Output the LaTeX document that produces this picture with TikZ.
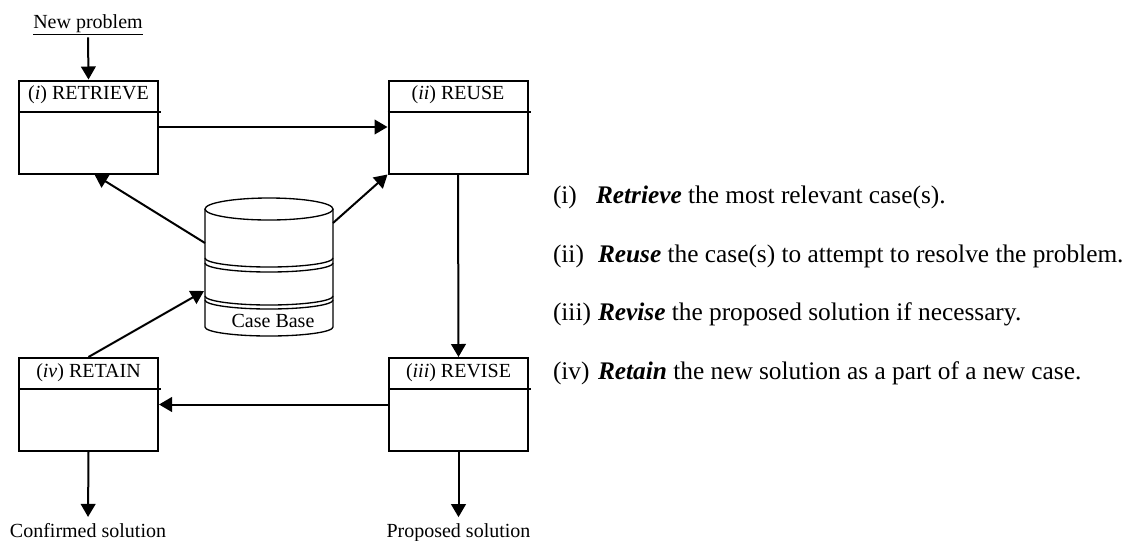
\documentclass[tikz,border=0pt]{standalone}
\usepackage{fontspec}
\setmainfont{Liberation Serif}
\usetikzlibrary{arrows.meta, positioning}

\begin{document}
\begin{tikzpicture}[
        x=0.75pt, y=-0.75pt,
        line width=1.5pt,
        >={Triangle[length=9.75pt, width=11pt]},
        stage/.style={draw, minimum width=104.25pt, minimum height=69.75pt, inner sep=0pt},
        title/.style={font=\fontsize{15}{18}\selectfont, inner sep=0pt, anchor=base},
        outcome/.style={font=\fontsize{15}{18}\selectfont, inner sep=0pt, anchor=base},
        phase/.style={font=\fontsize{19}{22}\selectfont, inner sep=0pt, anchor=base west}
    ]

    \useasboundingbox (0,0) rectangle (1132,540);

    % the four steps of the cycle
    \node[stage] (retrieve) at (88.5,127) {};
    \node[stage] (reuse) at (458,127) {};
    \node[stage] (revise) at (458.5,404.5) {};
    \node[stage] (retain) at (88.5,404.5) {};

    \foreach \s in {retrieve, reuse, revise, retain}
        \draw ([yshift=-24pt]\s.north west) -- ++(143,0);

    \node[title] (retrieve-title) at ([yshift=-15pt]retrieve.north) {(\textit{i}) RETRIEVE};
    \node[title] (reuse-title) at ([yshift=-15pt]reuse.north) {(\textit{ii}) REUSE};
    \node[title] (revise-title) at ([yshift=-15pt]revise.north) {(\textit{iii}) REVISE};
    \node[title] (retain-title) at ([yshift=-15pt]retain.north) {(\textit{iv}) RETAIN};

    \node[outcome] (problem) at (88,28) {\underline{New problem}};
    \node[outcome] (confirmed) at (88,537) {Confirmed solution};
    \node[outcome] (proposed) at (458.5,537) {Proposed solution};

    % case base, three stacked disks
    \begin{scope}[line width=1pt]
        \draw (269,209) ellipse[x radius=48pt, y radius=8.25pt];
        \draw (205,209) -- (205,327)
            arc[start angle=180, end angle=360, x radius=48pt, y radius=6.75pt] -- (333,209);
        \foreach \y in {258, 263, 296, 300}
            \draw (205,\y) arc[start angle=180, end angle=360, x radius=48pt, y radius=6.75pt];
    \end{scope}
    \node[title] (casebase) at (273,327) {Case Base};
    \coordinate (db-west-top) at (205,243);
    \coordinate (db-east) at (333,223);
    \coordinate (db-west-low) at (204,291);

    \draw[->, shorten <=1pt] (problem.south) -- (retrieve.north);
    \draw[->] (retrieve.east) -- (reuse.west);
    \draw[->] (reuse.south) -- (revise.north);
    \draw[->] (revise.west) -- (retain.east);
    \draw[->, shorten >=3.75pt] (retain.south) -- (confirmed.north);
    \draw[->, shorten >=3.75pt] (revise.south) -- (proposed.north);
    \draw[->] (db-west-top) -- ([xshift=4.5pt]retrieve.south);
    \draw[->] (db-east) -- (reuse.south west);
    \draw[->] (retain.north) -- (db-west-low);

    % what each step does
    \node[phase] (phase-i) at (552,203)
        {\makebox[32.25pt][l]{(i)}\textbf{\textit{Retrieve}} the most relevant case(s).};
    \node[phase] (phase-ii) at (552,262)
        {\makebox[33.75pt][l]{(ii)}\textbf{\textit{Reuse}} the case(s) to attempt to resolve the problem.};
    \node[phase] (phase-iii) at (552,320)
        {\makebox[33.75pt][l]{(iii)}\textbf{\textit{Revise}} the proposed solution if necessary.};
    \node[phase] (phase-iv) at (552,379)
        {\makebox[33.75pt][l]{(iv)}\textbf{\textit{Retain}} the new solution as a part of a new case.};

\end{tikzpicture}
\end{document}
